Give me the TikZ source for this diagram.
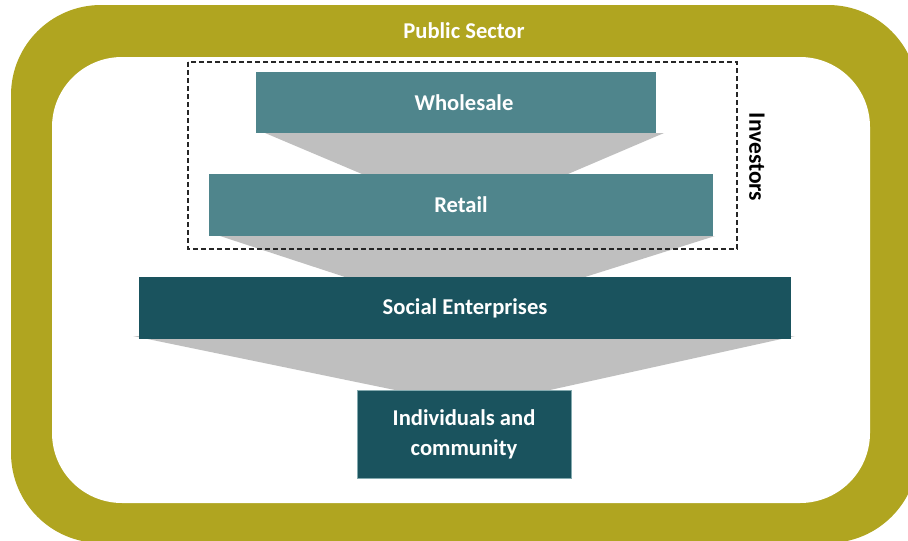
\documentclass[tikz,border=0pt]{standalone}
\usepackage{fontspec}
\setmainfont{Carlito}
\definecolor{sectorolive}{HTML}{B0A520}
\definecolor{investteal}{HTML}{4F858C}
\definecolor{socialteal}{HTML}{1A535E}
\definecolor{funnelgrey}{HTML}{BFBFBF}

\begin{document}
\begin{tikzpicture}[x=1pt,y=-1pt,
    tier/.style={inner sep=0pt,text=white,align=center,
      font=\fontsize{22.6}{30}\selectfont\bfseries},
    funnel/.style={fill=funnelgrey}]
    \useasboundingbox (0,0) rectangle (908,541);
    % public sector frame
    \fill[sectorolive,rounded corners=90pt] (11,5) rectangle (918,543);
    \fill[white,rounded corners=70pt] (52,57) rectangle (870,503);
    \node[tier] (public) at (464,31) {Public Sector};
    % grey funnel pieces between the tiers
    \fill[funnel] (265,133) -- (664,133) -- (568,174) -- (362,174) -- cycle;
    \fill[funnel] (220,236) -- (715,236) -- (585,277) -- (345,277) -- cycle;
    \fill[funnel] (133,336) -- (795,336) -- (550,390) -- (395,390) -- cycle;
    % tiers
    \node[tier,fill=investteal,minimum width=400pt,minimum height=61pt] (whole) at (455.5,102.5) {};
    \node[tier] (wholetext) at (464,102.5) {Wholesale};
    \node[tier,fill=investteal,minimum width=504pt,minimum height=62pt] (retail) at (461,205) {Retail};
    \node[tier,fill=socialteal,minimum width=652pt,minimum height=62pt] (social) at (465,308) {Social Enterprises};
    \node[tier,fill=socialteal,draw=investteal!70,minimum width=214pt,minimum height=88pt] (indiv) at (464,434) {Individuals and\\community};
    % investors group
    \draw[dashed,dash pattern=on 5pt off 3pt,line width=1.1pt,black!85] (188,62) rectangle (737,249);
    \node[rotate=-90,inner sep=0pt,font=\fontsize{23.5}{26}\selectfont\bfseries] (invest) at (757,157) {Investors};
\end{tikzpicture}
\end{document}
